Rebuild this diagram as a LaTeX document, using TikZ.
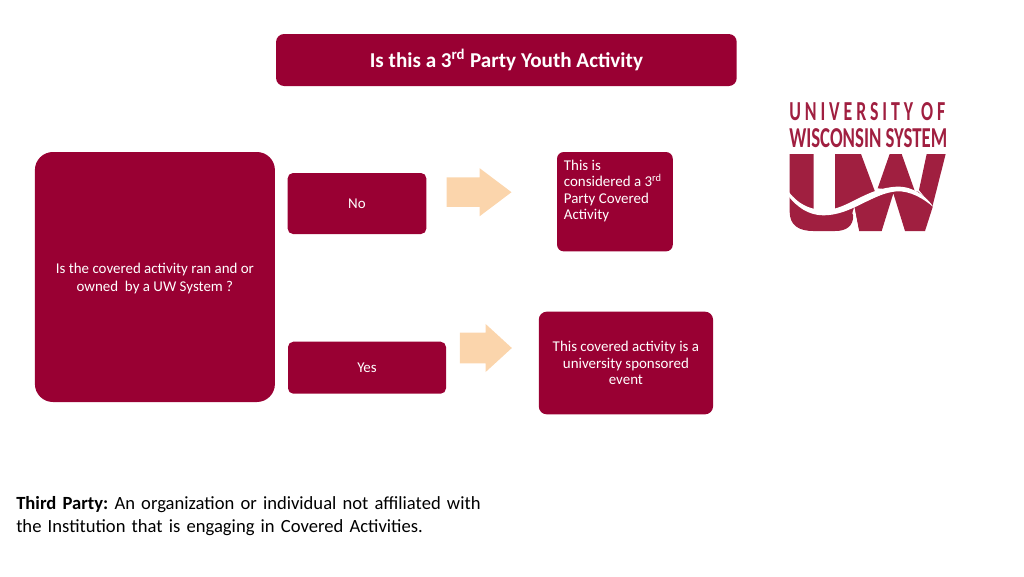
\documentclass[tikz,border=0pt]{standalone}
\usepackage{fontspec}
\setmainfont{Carlito}
\usetikzlibrary{shapes.arrows}
\definecolor{uwred}{HTML}{990033}
\definecolor{uwlogo}{HTML}{A01F40}
\definecolor{uwpeach}{HTML}{FBD5AC}
\frenchspacing
\tikzset{
  box/.style={fill=uwred,text=white,inner sep=0pt,align=center,font=\fontsize{11.2}{12.2}\selectfont},
  blockarrow/.style={single arrow,fill=uwpeach,inner sep=0pt,single arrow head indent=0pt,shape border rotate=0,anchor=center},
  logotext/.style={text=uwlogo,inner sep=0pt,anchor=south west,font=\fontsize{20}{20}\selectfont\bfseries},
  plain/.style={inner sep=0pt,align=left,anchor=base west,text=black}
}
\begin{document}
\begin{tikzpicture}[x=0.75pt,y=-0.75pt]
\useasboundingbox (0,0) rectangle (1024,576);
% boxes
\node[box,rounded corners=6pt,minimum width=345.5pt,minimum height=39pt,font=\fontsize{15.85}{17}\selectfont\bfseries] (title) at (506.4,60) {Is this a 3\textsuperscript{rd} Party Youth Activity};
\node[box,rounded corners=13.5pt,minimum width=180pt,minimum height=187.5pt,font=\fontsize{11.2}{13.5}\selectfont] (q) at (154.9,277) {\rule{0pt}{11pt}\\[-14pt]Is the covered activity ran and or\\owned\ \ by a UW System ?};
\node[box,rounded corners=4pt,minimum width=104pt,minimum height=45.75pt] (no) at (357,203.5) {No};
\node[box,rounded corners=4pt,minimum width=118.5pt,minimum height=39pt] (yes) at (367,367.7) {Yes};
\node[box,rounded corners=5pt,minimum width=86.8pt,minimum height=74.5pt] (r1) at (614.9,201.7) {\parbox[c][74.5pt][t]{76.5pt}{\raggedright\vspace{6.2pt}This is\\considered a 3\textsuperscript{rd}\\Party Covered\\Activity}};
\node[box,rounded corners=6pt,minimum width=130.7pt,minimum height=77pt] (r2) at (625.9,363) {This covered activity is a\\university sponsored\\event};
% block arrows
\node[blockarrow,minimum height=48.75pt,minimum width=35.8pt,single arrow head extend=7pt,single arrow tip angle=74] (a1) at (469.2,192.2) {\rule{0pt}{21.75pt}};
\node[blockarrow,minimum height=39pt,minimum width=35.6pt,single arrow head extend=6.6pt,single arrow tip angle=85] (a2) at (477.5,348) {\rule{0pt}{22.5pt}};
% footnote
\node[plain,font=\fontsize{13.95}{17.3}\selectfont,text width=400pt] (def) at (16,509) {\textbf{Third Party:} An organization or individual not affiliated with\\the Institution that is engaging in Covered Activities.};
% logo
\node[logotext] (logo1) at (789,120.5) {\resizebox{117pt}{13.5pt}{\addfontfeature{LetterSpace=22}UNIVERSITY OF}};
\node[logotext] (logo2) at (789,147.5) {\resizebox{118.5pt}{14.2pt}{WISCONSIN SYSTEM}};
\begin{scope}[shift={(785,150)},x=0.25pt,y=-0.25pt]
  \fill[uwlogo] (14,12) -- (86,12) -- (86,185) -- (150,185) -- (150,12) -- (228,12) -- (270,125) -- (250,150) -- (207,185)
     -- (205,195) .. controls (205,228) and (185,243) .. (150,243) -- (85,243) .. controls (40,243) and (14,225) .. (14,185) -- cycle;
  \fill[uwlogo] (207,170) -- (222,243) -- (290,243) -- (325,130) -- (360,243) -- (420,243) -- (444,168) -- (400,125) -- (320,120) -- cycle;
  \fill[uwlogo] (278,115) -- (314,12) -- (350,12) -- (390,125) -- cycle;
  \fill[uwlogo] (402,120) -- (425,12) -- (482,12) -- (442,170) -- cycle;
  % swoosh
  \fill[white] (10,124) .. controls (45,170) and (85,180) .. (120,180)
     .. controls (190,178) and (240,115) .. (335,110)
     .. controls (385,108) and (425,140) .. (446,172)
     .. controls (415,145) and (375,122) .. (335,124)
     .. controls (260,130) and (200,196) .. (115,196)
     .. controls (70,196) and (35,170) .. (10,138) -- cycle;
  \fill[white] (202,190) -- (208,170) -- (222,245) -- (205,245) .. controls (207,225) and (206,205) .. (205,195) -- cycle;
\end{scope}
\end{tikzpicture}
\end{document}
